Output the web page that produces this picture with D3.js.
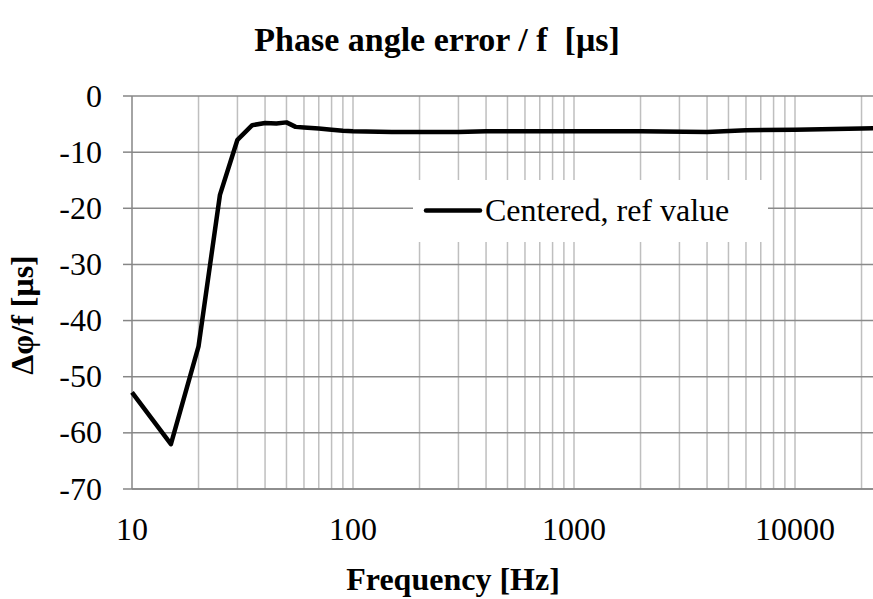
<!DOCTYPE html>
<html>
<head>
<meta charset="utf-8">
<script src="https://cdn.jsdelivr.net/npm/d3@7/dist/d3.min.js"></script>
<style>
  html, body { margin: 0; padding: 0; background: #fff; }
  svg { display: block; }
  text { font-family: "Liberation Serif", "DejaVu Serif", serif; fill: #000; white-space: pre; }
</style>
</head>
<body>
<svg id="chart" width="873" height="599"></svg>
<script>
// Measured phase angle error divided by frequency
const frequencies = [10, 15, 20, 25, 30, 35, 40, 45, 50, 55, 60, 70, 80, 90, 100, 150, 200, 300, 400, 500, 1000, 2000, 4000, 6000, 10000, 20000, 25000];
const phaseError  = [-52.8, -62.0, -44.6, -17.6, -7.8, -5.2, -4.8, -4.9, -4.7, -5.5, -5.6, -5.8, -6.0, -6.2, -6.3, -6.4, -6.4, -6.4, -6.3, -6.3, -6.3, -6.3, -6.4, -6.1, -6.0, -5.8, -5.7];
const yTicks = [0, -10, -20, -30, -40, -50, -60, -70];
const xTickLabels = [10, 100, 1000, 10000];
const seriesName = "Centered, ref value";

const svg = d3.select("#chart");
const plotLeft = 132, plotTop = 96, plotBottom = 489;
const labelSize = 32;

const x = d3.scaleLog().domain([10, 100000]).range([plotLeft, plotLeft + 884]);
const y = d3.scaleLinear().domain([-70, 0]).range([plotBottom, plotTop]);

// vertical minor gridlines (2..9 of each decade)
const minor = [];
for (let d = 10; d < 100000; d *= 10) {
  for (let k = 1; k <= 9; k++) minor.push(d * k);
}
svg.append("g").selectAll("line").data(minor.filter(v => v > 10)).join("line")
  .attr("x1", d => x(d)).attr("x2", d => x(d))
  .attr("y1", plotTop).attr("y2", plotBottom)
  .attr("stroke", "#bfbfbf").attr("stroke-width", 1.5);

// horizontal major gridlines
svg.append("g").selectAll("line").data(yTicks).join("line")
  .attr("x1", plotLeft).attr("x2", x(100000))
  .attr("y1", d => y(d)).attr("y2", d => y(d))
  .attr("stroke", "#898989").attr("stroke-width", 1.5);

// axes lines
svg.append("line").attr("x1", plotLeft).attr("x2", plotLeft).attr("y1", plotTop).attr("y2", plotBottom)
  .attr("stroke", "#868686").attr("stroke-width", 1.5);
svg.append("line").attr("x1", plotLeft).attr("x2", x(100000)).attr("y1", plotBottom).attr("y2", plotBottom)
  .attr("stroke", "#868686").attr("stroke-width", 1.5);

// y tick marks and labels
const yAxis = svg.append("g");
yAxis.selectAll("line").data(yTicks).join("line")
  .attr("x1", plotLeft - 9).attr("x2", plotLeft)
  .attr("y1", d => y(d)).attr("y2", d => y(d))
  .attr("stroke", "#868686").attr("stroke-width", 1.5);
yAxis.selectAll("text").data(yTicks).join("text")
  .attr("x", 102).attr("y", d => y(d)).attr("dy", "0.33em")
  .attr("text-anchor", "end").attr("font-size", labelSize)
  .text(d => d);

// x tick labels
svg.append("g").selectAll("text").data(xTickLabels).join("text")
  .attr("x", d => x(d)).attr("y", 540)
  .attr("text-anchor", "middle").attr("font-size", labelSize)
  .text(d => d);

// data line
const line = d3.line().x((d, i) => x(frequencies[i])).y(d => y(d));
svg.append("path").datum(phaseError)
  .attr("d", line)
  .attr("fill", "none").attr("stroke", "#000").attr("stroke-width", 4.5)
  .attr("stroke-linejoin", "round");

// legend
const lg = svg.append("g");
lg.append("rect").attr("x", 413).attr("y", 180).attr("width", 355).attr("height", 62).attr("fill", "#fff");
lg.append("line").attr("x1", 426).attr("x2", 480).attr("y1", 210.5).attr("y2", 210.5)
  .attr("stroke", "#000").attr("stroke-width", 4.5).attr("stroke-linecap", "round");
lg.append("text").attr("x", 485).attr("y", 221)
  .attr("font-size", labelSize).text(seriesName);

// titles
svg.append("text").attr("x", 437).attr("y", 51).attr("text-anchor", "middle")
  .attr("font-size", 34).attr("font-weight", "bold")
  .text("Phase angle error / f  [μs]");
svg.append("text").attr("x", 453).attr("y", 590).attr("text-anchor", "middle")
  .attr("font-size", labelSize).attr("font-weight", "bold")
  .text("Frequency [Hz]");
svg.append("text").attr("transform", "translate(33,315) rotate(-90)")
  .attr("text-anchor", "middle").attr("font-size", labelSize).attr("font-weight", "bold")
  .text("Δφ/f [μs]");
</script>
</body>
</html>
